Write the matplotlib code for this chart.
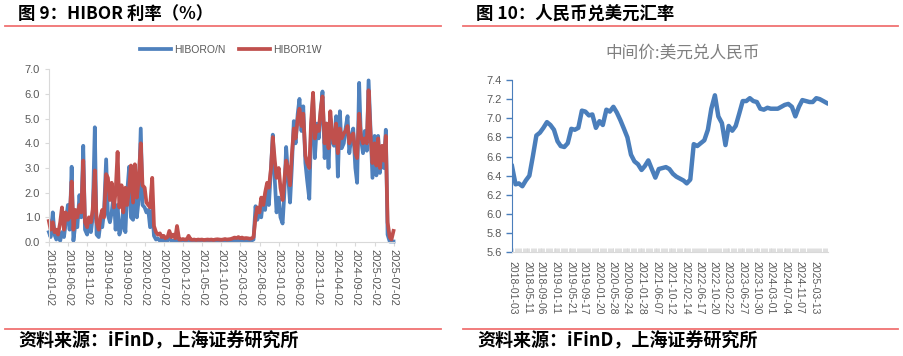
import numpy as np
import pandas as pd
import matplotlib
matplotlib.use("Agg")
import matplotlib.pyplot as plt
from matplotlib.lines import Line2D
from matplotlib.ticker import FormatStrFormatter

CJK = ['Noto Sans CJK SC', 'DejaVu Sans']
NUM = ['Liberation Sans', 'DejaVu Sans']

# ---- data: HIBOR (semi-monthly readings) ----
hibor_dates = pd.date_range('2018-01-01', periods=181, freq='SMS')

hibor_on = [0.40, 0.20, 1.20, 0.30, 0.10, 0.30, 0.05, 0.40, 0.20, 0.80,
            1.50, 0.50, 3.05, 0.05, 0.80, 0.60, 1.90, 1.00, 3.90, 0.50,
            0.30, 0.80, 0.40, 1.00, 4.65, 0.30, 0.20, 0.80, 0.60, 1.20,
            3.35, 1.10, 0.80, 1.20, 2.00, 0.50, 1.50, 0.30, 0.60, 1.30,
            0.40, 2.00, 3.05, 1.00, 0.90, 2.40, 1.00, 1.70, 4.60, 1.50,
            1.40, 1.20, 1.30, 0.60, 1.30, 0.25, 0.10, 0.15, 0.05, 0.10,
            0.05, 0.10, 0.05, 0.15, 0.05, 0.05, 0.05, 0.10, 0.05, 0.04,
            0.05, 0.04, 0.05, 0.06, 0.04, 0.05, 0.04, 0.05, 0.05, 0.04,
            0.05, 0.04, 0.05, 0.04, 0.05, 0.06, 0.05, 0.04, 0.05, 0.05,
            0.04, 0.05, 0.05, 0.06, 0.05, 0.05, 0.06, 0.05, 0.07, 0.06,
            0.05, 0.06, 0.07, 0.05, 0.06, 0.08, 0.06, 0.10, 1.45, 0.90,
            1.20, 1.00, 1.80, 1.30, 2.30, 1.50, 3.00, 4.35, 2.50, 1.20,
            1.80, 1.00, 0.75, 2.00, 3.85, 2.80, 1.60, 3.00, 4.90, 4.00,
            5.20, 5.80, 4.50, 5.50, 3.20, 2.50, 1.75, 4.50, 5.90, 3.40,
            4.80, 4.20, 5.30, 6.10, 3.40, 4.80, 3.00, 5.00, 4.10, 3.90,
            5.10, 2.65, 5.30, 3.80, 4.00, 4.60, 5.10, 3.60, 4.30, 4.60,
            3.00, 2.40, 6.45, 4.20, 3.60, 4.50, 3.70, 6.55, 4.40, 2.60,
            4.30, 2.70, 4.30, 2.80, 3.80, 3.00, 4.55, 0.30, 0.02, 0.02,
            0.02]

hibor_1w = [0.85, 0.50, 0.80, 0.40, 0.50, 0.30, 0.80, 1.40, 0.50, 1.20,
            0.90, 1.00, 2.45, 0.50, 1.30, 1.00, 1.50, 1.20, 3.30, 0.80,
            0.60, 1.00, 0.80, 1.30, 2.90, 0.80, 0.50, 1.00, 1.30, 1.00,
            2.75, 2.60, 1.70, 2.40, 1.40, 2.00, 3.65, 1.40, 2.30, 1.20,
            2.20, 1.50, 2.20, 3.10, 1.60, 3.15, 1.80, 2.50, 4.00, 2.30,
            2.20, 1.60, 1.50, 1.40, 2.60, 0.65, 0.40, 0.30, 0.35, 0.20,
            0.25, 0.15, 0.20, 0.45, 0.20, 0.30, 0.15, 0.65, 0.10, 0.10,
            0.12, 0.10, 0.10, 0.25, 0.10, 0.09, 0.10, 0.08, 0.10, 0.09,
            0.10, 0.08, 0.09, 0.10, 0.09, 0.10, 0.08, 0.10, 0.11, 0.10,
            0.09, 0.10, 0.12, 0.10, 0.11, 0.12, 0.15, 0.18, 0.16, 0.20,
            0.15, 0.18, 0.14, 0.16, 0.15, 0.13, 0.15, 0.20, 1.00, 1.40,
            1.20, 1.80, 1.50, 2.00, 2.40, 2.20, 3.00, 4.25, 3.30, 2.60,
            3.00, 2.20, 1.70, 2.50, 3.30, 3.00, 2.30, 3.50, 4.60, 4.20,
            5.00, 5.40, 4.70, 5.20, 3.50, 3.20, 3.00, 4.80, 6.05, 4.20,
            4.70, 4.50, 5.40, 5.90, 4.00, 4.80, 3.80, 5.30, 4.30, 4.00,
            4.80, 3.60, 4.60, 4.20, 4.40, 4.50, 4.70, 4.00, 4.30, 4.40,
            3.60, 3.40, 5.20, 4.30, 4.00, 4.20, 4.00, 6.15, 4.20, 3.20,
            4.00, 3.10, 4.20, 3.00, 3.90, 3.30, 4.30, 0.80, 0.20, 0.10,
            0.45]

hibor_ticks = ['2018-01-02', '2018-06-02', '2018-11-02', '2019-04-02',
               '2019-09-02', '2020-02-02', '2020-07-02', '2020-12-02',
               '2021-05-02', '2021-10-02', '2022-03-02', '2022-08-02',
               '2023-01-02', '2023-06-02', '2023-11-02', '2024-04-02',
               '2024-09-02', '2025-02-02', '2025-07-02']

# ---- data: USD/CNY central parity (monthly readings) ----
cny_dates = pd.date_range('2018-01-01', periods=91, freq='MS')

cny_mid = [6.50, 6.31, 6.32, 6.29, 6.35, 6.40, 6.60, 6.82, 6.85, 6.90,
           6.96, 6.93, 6.88, 6.76, 6.71, 6.70, 6.74, 6.89, 6.88, 6.90,
           7.08, 7.07, 7.03, 7.04, 6.90, 6.97, 6.93, 7.09, 7.07, 7.12,
           7.06, 6.98, 6.89, 6.80, 6.62, 6.55, 6.52, 6.46, 6.50, 6.56,
           6.47, 6.38, 6.47, 6.48, 6.49, 6.47, 6.42, 6.39, 6.37, 6.35,
           6.32, 6.36, 6.73, 6.71, 6.74, 6.77, 6.88, 7.10, 7.24, 7.02,
           6.95, 6.72, 6.92, 6.87, 6.92, 7.05, 7.18, 7.18, 7.21, 7.18,
           7.17, 7.10, 7.09, 7.11, 7.10, 7.10, 7.10, 7.12, 7.14, 7.15,
           7.12, 7.02, 7.12, 7.19, 7.18, 7.17, 7.17, 7.21, 7.20, 7.18,
           7.16]

cny_ticks = ['2018-01-03', '2018-05-11', '2018-09-06', '2019-01-11',
             '2019-05-21', '2019-09-17', '2020-01-20', '2020-05-28',
             '2020-09-24', '2021-01-28', '2021-06-07', '2021-10-12',
             '2022-02-14', '2022-06-17', '2022-10-20', '2023-02-22',
             '2023-06-27', '2023-10-30', '2024-03-01', '2024-07-04',
             '2024-11-07', '2025-03-13']

W, H = 904, 356


def fx(x):
    return x / W


def fy(y):
    return 1 - y / H


fig = plt.figure(figsize=(W / 100, H / 100), dpi=100)
fig.patch.set_facecolor('white')

# headers, rules and source lines
line_red = '#f07272'
for x0, x1 in [(5, 441), (463, 898)]:
    fig.add_artist(Line2D([fx(x0), fx(x1)], [fy(26), fy(26)], color=line_red, lw=1.3))
    fig.add_artist(Line2D([fx(x0), fx(x1)], [fy(329), fy(329)], color=line_red, lw=1.3))

fig.text(fx(18), fy(14), '图 9：HIBOR 利率（%）', fontsize=12.5, fontweight='bold',
         family=CJK, va='center', ha='left')
fig.text(fx(476), fy(14), '图 10：人民币兑美元汇率', fontsize=12.5, fontweight='bold',
         family=CJK, va='center', ha='left')
for x in [18, 477]:
    fig.text(fx(x), fy(341), '资料来源：iFinD，上海证券研究所', fontsize=13,
             fontweight='bold', style='italic', family=CJK, va='center', ha='left')

# ---- left: HIBOR ----
ax1 = fig.add_axes([fx(49), fy(242), fx(394) - fx(49), fy(69.3) - fy(242)])
ax1.plot(hibor_dates, hibor_on, color='#4f81bd', lw=2.7, label='HIBORO/N', clip_on=False)
ax1.plot(hibor_dates, hibor_1w, color='#c0504d', lw=2.7, label='HIBOR1W', clip_on=False)
ax1.set_ylim(0, 7)
ax1.set_yticks(np.arange(0, 7.01, 1.0))
ax1.yaxis.set_major_formatter(FormatStrFormatter('%.1f'))
ax1.set_xlim(pd.Timestamp('2018-01-02'), pd.Timestamp('2025-07-05'))
ax1.set_xticks(pd.to_datetime(hibor_ticks))
ax1.set_xticklabels(hibor_ticks, rotation=270, family=NUM)
for s in ['top', 'right']:
    ax1.spines[s].set_visible(False)
for s in ['left', 'bottom']:
    ax1.spines[s].set_color('#d9d9d9')
ax1.tick_params(axis='both', colors='#d9d9d9', labelcolor='#595959', labelsize=8,
                length=3, width=0.8)
ax1.tick_params(axis='x', pad=2)
for t in ax1.get_yticklabels():
    t.set_family(NUM)
leg = ax1.legend(loc='center', bbox_to_anchor=(fx(231), fy(50)), bbox_transform=fig.transFigure,
                 ncol=2, frameon=False, fontsize=7.5, handlelength=3.0,
                 columnspacing=1.3, handletextpad=0.3)
for t in leg.get_texts():
    t.set_color('#595959')
    t.set_family(NUM)

# ---- right: USD/CNY ----
ax2 = fig.add_axes([fx(512), fy(252.3), fx(828) - fx(512), fy(80) - fy(252.3)])
ax2.plot(cny_dates, cny_mid, color='#4a7ebb', lw=3.2)
ax2.set_ylim(5.6, 7.4)
ax2.set_yticks(np.arange(5.6, 7.41, 0.2))
ax2.yaxis.set_major_formatter(FormatStrFormatter('%.1f'))
ax2.set_xlim(pd.Timestamp('2018-01-01'), pd.Timestamp('2025-07-12'))
ax2.set_xticks(pd.to_datetime(cny_ticks))
ax2.set_xticklabels(cny_ticks, rotation=270, family=NUM)
ax2.set_xticks(pd.date_range('2018-01-03', '2025-07-10', freq='10D'), minor=True)
for s in ['top', 'right']:
    ax2.spines[s].set_visible(False)
ax2.spines['left'].set_color('#4a7ebb')
ax2.spines['bottom'].set_color('#d9d9d9')
ax2.tick_params(axis='y', colors='#4a7ebb', labelcolor='#595959', labelsize=8,
                length=4, width=1)
ax2.tick_params(axis='x', which='both', direction='in', colors='#d9d9d9',
                labelcolor='#595959', labelsize=7.5, length=3, width=0.6, pad=6)
for t in ax2.get_yticklabels():
    t.set_family(NUM)
fig.text(fx(683), fy(53), '中间价:美元兑人民币', color='#7f7f7f', fontsize=12,
         family=CJK, ha='center', va='center')

fig.savefig('out.png', dpi=100)
